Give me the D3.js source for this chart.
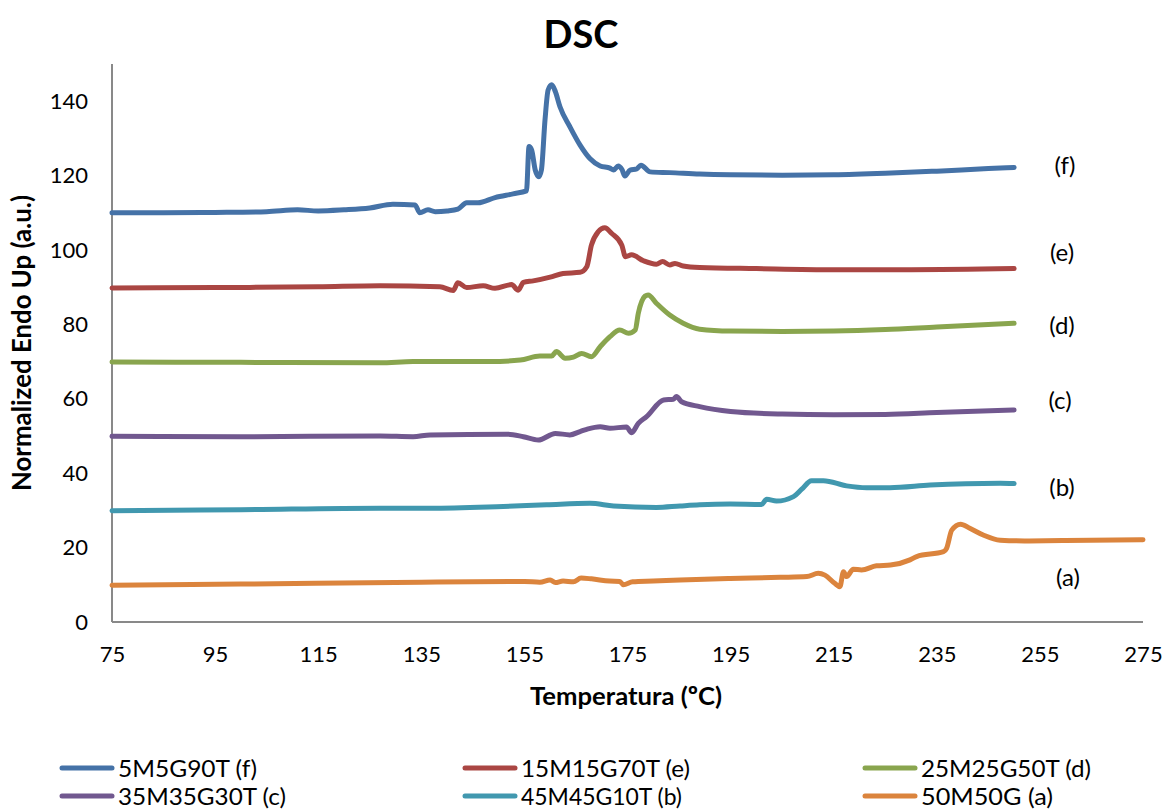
<!DOCTYPE html>
<html><head><meta charset="utf-8">
<script src="https://cdn.jsdelivr.net/npm/d3@7"></script>
<style>body{margin:0;background:#fff}svg{display:block}text{font-family:Lato,"Open Sans",sans-serif;fill:#000}</style>
</head><body><svg id="c" width="1165" height="810"></svg>
<script>
// ---- data ----
const xTicks = [75, 95, 115, 135, 155, 175, 195, 215, 235, 255, 275];
const yTicks = [0, 20, 40, 60, 80, 100, 120, 140];
const seriesNames = ["5M5G90T (f)", "15M15G70T (e)", "25M25G50T (d)", "35M35G30T (c)", "45M45G10T (b)", "50M50G (a)"];
const curveLabels = ["(f)", "(e)", "(d)", "(c)", "(b)", "(a)"];
const colors = ["#4572A7", "#AA4643", "#89A54E", "#71588F", "#4198AF", "#DB843D"];

const tF = [75, 85, 95, 105, 111, 115, 120, 125, 129.5, 133.8, 134.7, 136.3, 137.7, 140, 142.1, 143.8, 146, 149.3, 152.8, 155.4, 155.9, 156.4, 157.1, 157.8, 158.3, 159, 159.6, 160.3, 161, 161.9, 163.8, 165.8, 167.7, 169.7, 171.6, 172.3, 173.2, 173.9, 174.5, 175.5, 176.8, 177.6, 179.4, 183.2, 189, 195, 205, 215, 225, 235, 245, 250];
const vF = [110, 110, 110.1, 110.3, 110.8, 110.5, 110.8, 111.3, 112.3, 112.1, 110.0, 110.8, 110.3, 110.5, 111, 112.7, 112.7, 114.1, 115.1, 115.9, 127.8, 126.9, 121.5, 119.7, 121.5, 135, 143, 144.4, 142.6, 138.5, 133.2, 128.2, 124.6, 122.6, 122, 121.5, 122.6, 121.7, 119.9, 121.5, 121.8, 122.8, 121, 120.8, 120.4, 120.2, 120.1, 120.2, 120.6, 121.2, 121.9, 122.2];

const tE = [75, 95, 115, 127, 138.6, 141.2, 142.1, 143.8, 147, 149.3, 152.5, 153.8, 154.8, 156.7, 160, 162.5, 165.8, 167.1, 168, 169.3, 170.6, 171.9, 173.9, 174.6, 175.8, 178.1, 180.6, 181.8, 183.2, 184.2, 185.8, 189, 200, 215, 230, 250];
const vE = [89.8, 89.9, 90.1, 90.4, 90.1, 89.1, 91.2, 89.9, 90.4, 89.7, 90.7, 89.2, 91.3, 91.7, 92.7, 93.7, 94, 95.5, 101.3, 104.9, 106, 104.5, 101.3, 98.2, 98.7, 97.1, 96.2, 96.9, 96, 96.4, 95.7, 95.3, 95, 94.7, 94.7, 95];

const tD = [75, 100, 127, 133.4, 148.3, 154.2, 158, 160.3, 161.2, 162.9, 164.5, 166.1, 168, 169.7, 171.6, 173.5, 175.2, 176.5, 177.1, 178.4, 179, 180.6, 183.2, 185.8, 189, 195, 205, 215, 225, 235, 250];
const vD = [69.9, 69.8, 69.7, 70, 70, 70.4, 71.5, 71.5, 72.7, 70.9, 71.2, 72.2, 71.3, 74, 76.7, 78.5, 77.6, 78.5, 83, 87.6, 87.9, 85.7, 82.5, 80.3, 78.7, 78.2, 78.1, 78.2, 78.6, 79.3, 80.3];

const tC = [75, 100, 127, 133.4, 136.7, 151.6, 154.8, 157.7, 161, 163.8, 165.8, 167.1, 169.7, 171.6, 174.8, 175.8, 177.1, 178.7, 182, 183.9, 184.5, 185.5, 189, 195, 205, 215, 225, 235, 250];
const vC = [49.9, 49.8, 50, 49.8, 50.3, 50.5, 49.8, 48.9, 50.7, 50.3, 51.2, 51.8, 52.5, 52.1, 52.4, 50.9, 53.4, 55.2, 59.7, 59.9, 60.6, 59.2, 57.9, 56.6, 55.9, 55.7, 55.8, 56.3, 57];

const tB = [75, 100, 127, 136.7, 149.6, 159.3, 167.7, 172.3, 180.6, 185.2, 189, 194.9, 201, 202, 203.9, 207.2, 208.8, 210.7, 213, 217.5, 221.4, 225.9, 233.7, 247.3, 250];
const vB = [29.9, 30.2, 30.6, 30.6, 31, 31.5, 31.9, 31.2, 30.8, 31.2, 31.5, 31.7, 31.6, 33, 32.5, 33.7, 35.7, 38, 38, 36.6, 36.1, 36.1, 36.8, 37.3, 37.2];

const tA = [75, 100, 135, 155, 158, 160, 161, 162.5, 164.5, 166, 168, 171.5, 173.5, 174.2, 176, 180, 185.2, 194.9, 204.6, 209.8, 212, 213.3, 215.2, 216.2, 216.9, 217.5, 218.8, 220.4, 223.3, 226, 229.8, 231.1, 236.3, 236.9, 237.9, 239.6, 241.4, 244, 247.3, 252, 260, 275];
const vA = [9.9, 10.2, 10.7, 10.9, 10.7, 11.3, 10.6, 11, 10.8, 11.8, 11.6, 11, 10.9, 10, 10.8, 11, 11.3, 11.7, 12, 12.2, 13.1, 12.6, 10.4, 9.5, 13.5, 12.2, 14.2, 14, 15.1, 15.3, 16.7, 17.6, 18.9, 19.8, 24.7, 26.3, 25.2, 23.4, 22, 21.8, 21.9, 22.1];

const temps = [tF, tE, tD, tC, tB, tA];
const vals = [vF, vE, vD, vC, vB, vA];

// ---- layout ----
const svg = d3.select("#c");
const L = 112, R = 1143, T = 64, B = 622;
const x = d3.scaleLinear().domain([75, 275]).range([L, R]);
const y = d3.scaleLinear().domain([0, 150]).range([B, T]);

function fit(sel, w) {
  const n = sel.node(); const fs = parseFloat(sel.attr("font-size"));
  const cur = n.getComputedTextLength();
  sel.attr("font-size", (fs * w / cur).toFixed(2));
}

// axes
const gx = svg.append("g").attr("transform", `translate(0,${B})`)
  .call(d3.axisBottom(x).tickValues(xTicks).tickSize(0).tickPadding(24).tickFormat(d3.format("d")));
const gy = svg.append("g").attr("transform", `translate(${L},0)`)
  .call(d3.axisLeft(y).tickValues(yTicks).tickSize(0).tickPadding(24).tickFormat(d3.format("d")));
[gx, gy].forEach(g => {
  g.select(".domain").attr("stroke", "#898989").attr("stroke-width", 2);
  g.selectAll("text").attr("font-size", 22).attr("font-family", "Lato").attr("fill", "#000");
});
gy.select(".domain").attr("d", `M0,${T}V${B}`);
gx.select(".domain").attr("d", `M${L},0H${R}`);

// lines
const line = d3.line().x(d => x(d[0])).y(d => y(d[1])).curve(d3.curveMonotoneX);
temps.forEach((ts, i) => {
  const pts = ts.map((t, j) => [t, vals[i][j]]);
  svg.append("path").datum(pts).attr("d", line)
    .attr("fill", "none").attr("stroke", colors[i]).attr("stroke-width", 5)
    .attr("stroke-linejoin", "round").attr("stroke-linecap", "round");
});

// curve labels
const labPos = [[1065, 165], [1062, 252], [1062, 325], [1060, 400], [1062, 487], [1068, 577]];
curveLabels.forEach((s, i) => {
  svg.append("text").attr("x", labPos[i][0]).attr("y", labPos[i][1] + 9)
    .attr("text-anchor", "middle").attr("font-size", 24).text(s);
});

// title
svg.append("text").attr("x", 581).attr("y", 48).attr("text-anchor", "middle")
  .attr("font-size", 38).attr("font-weight", "bold").text("DSC");
// axis titles
const xt = svg.append("text").attr("x", 626).attr("y", 705).attr("text-anchor", "middle")
  .attr("font-size", 21).attr("font-weight", "bold").text("Temperatura (ºC)");
fit(xt, 192);
const yt = svg.append("text").attr("transform", "translate(31,343) rotate(-90)").attr("text-anchor", "middle")
  .attr("font-size", 21).attr("font-weight", "bold").text("Normalized Endo Up (a.u.)");
fit(yt, 296);

// legend
const legX = [62, 465, 865], legY = [768, 796];
const legW = [139, 169, 170, 168, 161, 132];
seriesNames.forEach((s, i) => {
  const cx = legX[i % 3], cy = legY[Math.floor(i / 3)];
  svg.append("line").attr("x1", cx).attr("x2", cx + 50).attr("y1", cy).attr("y2", cy)
    .attr("stroke", colors[i]).attr("stroke-width", 5).attr("stroke-linecap", "round");
  const t = svg.append("text").attr("x", cx + 56).attr("y", cy + 9).attr("font-size", 24).text(s);
  t.attr("textLength", legW[i]).attr("lengthAdjust", "spacingAndGlyphs");
});
</script></body></html>
